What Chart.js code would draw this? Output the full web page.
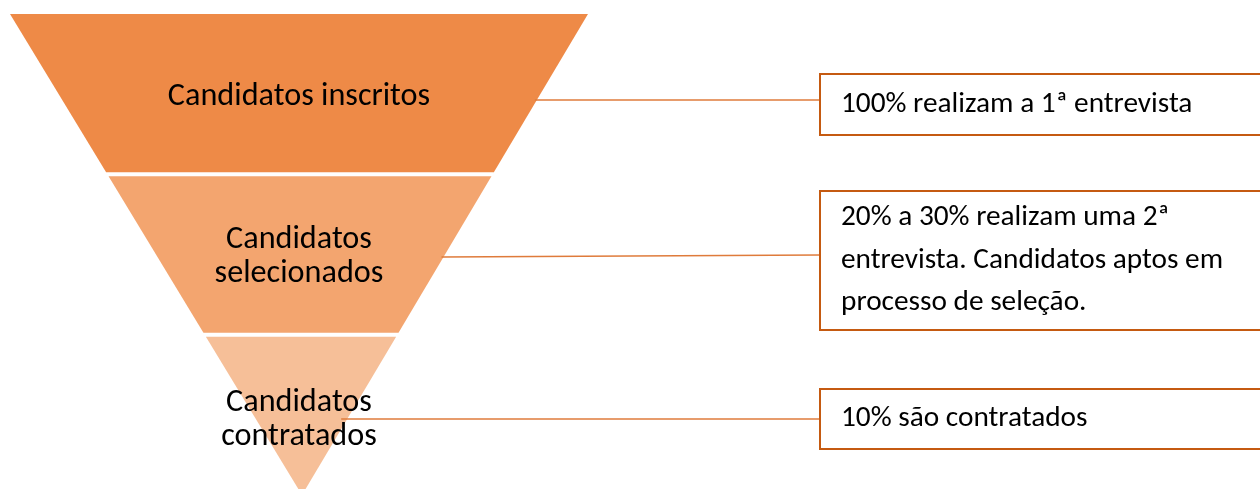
<!DOCTYPE html>
<html>
<head>
<meta charset="utf-8">
<script src="https://cdn.jsdelivr.net/npm/chart.js@4"></script>
<style>
  html, body { margin: 0; padding: 0; background: #fff; overflow: hidden; }
  #wrap { position: relative; width: 1260px; height: 496px; }
</style>
</head>
<body>
<div id="wrap"><canvas id="funnelChart"></canvas></div>
<script>
// Funnel stages (top to bottom)
const stages = ['Candidatos inscritos', 'Candidatos selecionados', 'Candidatos contratados'];
const stageLines = [['Candidatos inscritos'], ['Candidatos', 'selecionados'], ['Candidatos', 'contratados']];
const stageColors = ['#EE8A47', '#F3A56F', '#F6BF98'];

// Notes shown in the boxes on the right
const notes = [
    ['100% realizam a 1ª entrevista'],
    ['20% a 30% realizam uma 2ª', 'entrevista. Candidatos aptos em', 'processo de seleção.'],
    ['10% são contratados']
];

// Layout (pixels of the x scale / canvas)
const FONT = 'Carlito, Calibri, Lato, sans-serif';
const funnel = { topLeft: 10, topRight: 588, apex: 302, gap: 4 };
const boxLeft = 820;
const boxes = [{ top: 74, bottom: 135 }, { top: 191, bottom: 330 }, { top: 389, bottom: 449 }];
const linkY = [[100, 100], [257, 255], [419, 419]];
const labelY = [97, 257, 420];

function fitFont(ctx, text, width) {
    ctx.font = '100px ' + FONT;
    return 100 * width / ctx.measureText(text).width;
}

const funnelPlugin = {
    id: 'funnel',
    afterDraw(chart) {
        const ctx = chart.ctx;
        const xs = chart.scales.x;
        const ys = chart.scales.y;
        const area = chart.chartArea;
        const n = stages.length;
        const band = (area.bottom - area.top) / n;

        const xl = xs.getPixelForValue(funnel.topLeft);
        const xr = xs.getPixelForValue(funnel.topRight);
        const xa = xs.getPixelForValue(funnel.apex);
        const leftAt = y => xl + (xa - xl) * (y - area.top) / (area.bottom - area.top);
        const rightAt = y => xr + (xa - xr) * (y - area.top) / (area.bottom - area.top);

        const stageSize = fitFont(ctx, 'Candidatos inscritos', 262);
        const noteSize = fitFont(ctx, '100% realizam a 1ª entrevista', 352);

        ctx.save();
        stages.forEach((s, i) => {
            const c = ys.getPixelForValue(i);
            const y0 = c - band / 2 + (i > 0 ? funnel.gap / 2 : 0);
            const y1 = c + band / 2 - (i < n - 1 ? funnel.gap / 2 : 0);
            ctx.beginPath();
            ctx.moveTo(leftAt(y0), y0);
            ctx.lineTo(rightAt(y0), y0);
            ctx.lineTo(rightAt(y1), y1);
            ctx.lineTo(leftAt(y1), y1);
            ctx.closePath();
            ctx.fillStyle = stageColors[i];
            ctx.fill();
        });

        // connectors
        ctx.strokeStyle = '#DF7B3B';
        ctx.lineWidth = 1.5;
        linkY.forEach(([ya, yb], i) => {
            ctx.beginPath();
            ctx.moveTo(rightAt(ya) - (i === 2 ? 6 : 2), ya);
            ctx.lineTo(xs.getPixelForValue(boxLeft), yb);
            ctx.stroke();
        });

        // stage labels
        ctx.fillStyle = '#000';
        ctx.textAlign = 'center';
        ctx.textBaseline = 'middle';
        ctx.font = stageSize.toFixed(1) + 'px ' + FONT;
        const cx = (xl + xr) / 2;
        stageLines.forEach((lines, i) => {
            const lh = 33.5;
            lines.forEach((t, k) => {
                ctx.fillText(t, cx, labelY[i] + (k - (lines.length - 1) / 2) * lh);
            });
        });

        // note boxes
        const bx = xs.getPixelForValue(boxLeft);
        ctx.font = noteSize.toFixed(1) + 'px ' + FONT;
        ctx.textAlign = 'left';
        boxes.forEach((b, i) => {
            ctx.fillStyle = '#fff';
            ctx.fillRect(bx, b.top, 460, b.bottom - b.top);
            ctx.strokeStyle = '#C55A11';
            ctx.lineWidth = 2;
            ctx.strokeRect(bx, b.top, 460, b.bottom - b.top);
            ctx.fillStyle = '#000';
            const yc = (b.top + b.bottom) / 2;
            const lh = 42.5;
            notes[i].forEach((t, k) => {
                ctx.fillText(t, bx + 21, yc + (k - (notes[i].length - 1) / 2) * lh);
            });
        });
        ctx.restore();
    }
};

function initFunnelChart() {
    const ctx = document.getElementById('funnelChart').getContext('2d');
    new Chart(ctx, {
        type: 'bar',
        data: {
            labels: stages,
            datasets: []
        },
        options: {
            indexAxis: 'y',
            responsive: true,
            maintainAspectRatio: false,
            animation: false,
            layout: { padding: { top: 14, bottom: 1, left: 0, right: 0 } },
            plugins: {
                legend: { display: false },
                tooltip: { enabled: false },
                title: { display: false }
            },
            scales: {
                x: { type: 'linear', min: 0, max: 1260, display: false },
                y: { type: 'category', offset: true, display: false }
            }
        },
        plugins: [funnelPlugin]
    });
}

document.addEventListener('DOMContentLoaded', function() {
    initFunnelChart();
});
</script>
</body>
</html>
